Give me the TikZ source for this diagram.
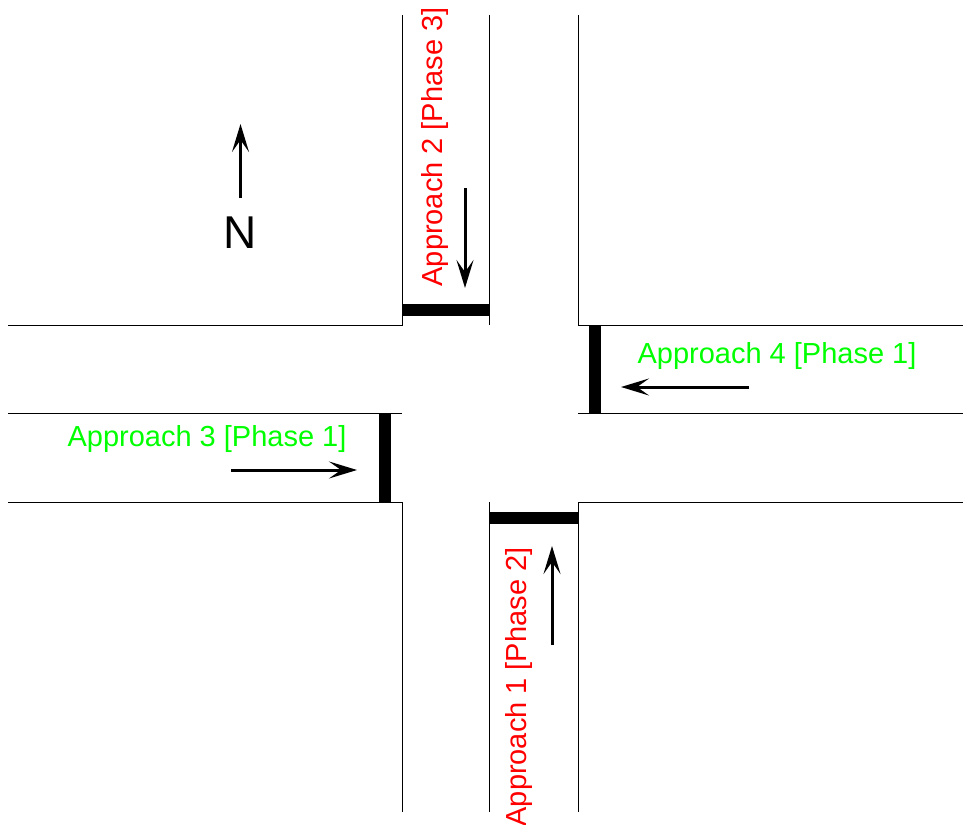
\documentclass[tikz,border=0pt]{standalone}
\usepackage{fontspec}
\setmainfont{Liberation Sans}
\usetikzlibrary{arrows.meta}
\definecolor{lblred}{RGB}{255,0,0}
\definecolor{lblgreen}{RGB}{0,255,0}
\begin{document}
\begin{tikzpicture}[x=1pt,y=-1pt,
  road/.style={draw=black,line width=1pt},
  stopbar/.style={draw=black,line width=12pt},
  dirarrow/.style={draw=black,line width=3pt,-{Stealth[length=28pt,width=17pt,inset=12pt]}},
  lbl/.style={inner sep=0pt,font=\fontsize{29}{34}\selectfont},
  redlbl/.style={lbl,text=lblred},
  greenlbl/.style={lbl,text=lblgreen}]
\useasboundingbox (0,0) rectangle (963,824);
\fill[white] (0,0) rectangle (963,824);
% road edges
\draw[road] (402,15) -- (402,325) -- (8,325);
\draw[road] (489,15) -- (489,325);
\draw[road] (578,15) -- (578,325) -- (963,325);
\draw[road] (8,413) -- (402,413);
\draw[road] (578,413) -- (963,413);
\draw[road] (8,502) -- (402,502) -- (402,812);
\draw[road] (489,502) -- (489,812);
\draw[road] (963,502) -- (578,502) -- (578,812);
% stop bars
\draw[stopbar] (402,309.5) -- (489,309.5);
\draw[stopbar] (594.5,325) -- (594.5,413);
\draw[stopbar] (385,413) -- (385,502);
\draw[stopbar] (489,518) -- (578,518);
% arrow end points
\coordinate (a2s) at (465,188);
\coordinate (a2e) at (465,288);
\coordinate (a1s) at (552,645);
\coordinate (a1e) at (552,546);
\coordinate (a4s) at (749,387);
\coordinate (a4e) at (621,387);
\coordinate (a3s) at (231,470);
\coordinate (a3e) at (357,470);
\coordinate (ns) at (240.5,198);
\coordinate (ne) at (240.5,124);
\draw[dirarrow] (a2s) -- (a2e);
\draw[dirarrow] (a1s) -- (a1e);
\draw[dirarrow] (a4s) -- (a4e);
\draw[dirarrow] (a3s) -- (a3e);
\draw[dirarrow] (ns) -- (ne);
% labels
\node[redlbl,rotate=90,anchor=base] (ap2) at (442,147) {Approach 2 [Phase 3]};
\node[redlbl,rotate=90,anchor=base] (ap1) at (526,687) {Approach 1 [Phase 2]};
\node[greenlbl,anchor=base] (ap3) at (207,446) {Approach 3 [Phase 1]};
\node[greenlbl,anchor=base] (ap4) at (777,363) {Approach 4 [Phase 1]};
\node[inner sep=0pt,anchor=base,font=\fontsize{46}{50}\selectfont] (north) at (240,248) {N};
\end{tikzpicture}
\end{document}
